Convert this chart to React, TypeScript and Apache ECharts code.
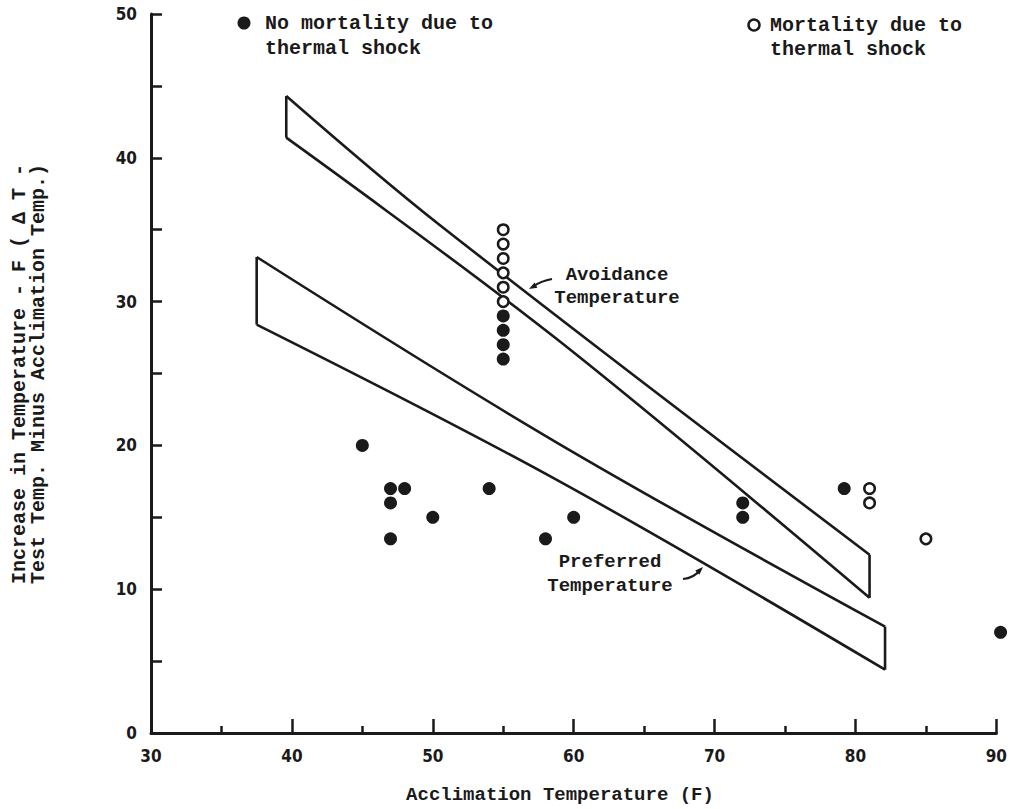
import React, { useEffect, useRef } from "react";
import * as echarts from "echarts";

// Acclimation temperature (F) and temperature increase (F) of each test
const noMortality: number[][] = [
  [45, 20], [47, 17], [48, 17], [47, 16], [47, 13.5], [50, 15], [54, 17],
  [58, 13.5], [60, 15], [55, 29], [55, 28], [55, 27], [55, 26],
  [72, 16], [72, 15], [79.2, 17], [90.3, 7],
];
const mortality: number[][] = [
  [55, 35], [55, 34], [55, 33], [55, 32], [55, 31], [55, 30],
  [81, 17], [81, 16], [85, 13.5],
];

// Upper and lower edges of the two hand-drawn temperature bands
const avoidanceUpper: number[][] = [[39.6, 44.3], [50.4, 35.4], [81, 12.4]];
const avoidanceLower: number[][] = [[39.6, 41.4], [58.8, 27.4], [81, 9.4]];
const preferredUpper: number[][] = [[37.5, 33.1], [58.8, 20.2], [82.1, 7.4]];
const preferredLower: number[][] = [[37.5, 28.4], [58.8, 17.6], [82.1, 4.4]];

const xRange = [30, 90];
const yRange = [0, 50];

const ink = "#1a1a1a";
const mono = "'Liberation Mono', 'DejaVu Sans Mono', monospace";
const digits = "'DejaVu Sans Condensed', 'Liberation Sans Narrow', 'DejaVu Sans', sans-serif";

const typed = (text: string, extra: Record<string, unknown> = {}) => ({
  text,
  fontFamily: mono,
  fontSize: 19,
  fontWeight: "bold",
  fill: ink,
  ...extra,
});

export default function App() {
  const ref = useRef<HTMLDivElement>(null);

  useEffect(() => {
    if (!ref.current) return;
    const chart = echarts.init(ref.current, undefined, { renderer: "svg" });

    const stroke = (name: string, data: number[][], smooth: number | boolean) => ({
      type: "line",
      name,
      data,
      symbol: "none",
      smooth,
      clip: false,
      silent: true,
      z: 1,
      lineStyle: { color: ink, width: 2.6, join: "miter" },
    });

    // each band: two gently curved edges joined by straight end caps
    const band = (name: string, upper: number[][], lower: number[][]) => [
      stroke(name, upper, 0.35),
      stroke(name, lower, 0.35),
      stroke(name, [upper[0], lower[0]], false),
      stroke(name, [upper[upper.length - 1], lower[lower.length - 1]], false),
    ];

    chart.setOption({
      animation: false,
      backgroundColor: "#ffffff",
      grid: { left: 151, right: 12, top: 14, bottom: 76 },
      xAxis: {
        type: "value",
        min: xRange[0],
        max: xRange[1],
        interval: 10,
        axisLine: { show: true, onZero: false, lineStyle: { color: ink, width: 3 } },
        axisTick: { show: true, inside: true, length: 14, lineStyle: { color: ink, width: 2.5 } },
        minorTick: { show: true, splitNumber: 2, length: 7, lineStyle: { color: ink, width: 2.5 } },
        splitLine: { show: false },
        axisLabel: { color: ink, fontFamily: digits, fontSize: 17, fontWeight: "bold", margin: 14 },
      },
      yAxis: {
        type: "value",
        min: yRange[0],
        max: yRange[1],
        interval: 10,
        axisLine: { show: true, onZero: false, lineStyle: { color: ink, width: 3 } },
        axisTick: { show: true, inside: true, length: 11, lineStyle: { color: ink, width: 2.5 } },
        minorTick: { show: true, splitNumber: 2, length: 11, lineStyle: { color: ink, width: 2.5 } },
        splitLine: { show: false },
        axisLabel: { color: ink, fontFamily: digits, fontSize: 17, fontWeight: "bold", margin: 14 },
      },
      series: [
        ...band("Avoidance Temperature", avoidanceUpper, avoidanceLower),
        ...band("Preferred Temperature", preferredUpper, preferredLower),
        {
          type: "scatter",
          name: "No mortality due to thermal shock",
          data: noMortality,
          symbol: "circle",
          symbolSize: 13,
          clip: false,
          z: 3,
          itemStyle: { color: ink, opacity: 1 },
        },
        {
          type: "scatter",
          name: "Mortality due to thermal shock",
          data: mortality,
          symbol: "circle",
          symbolSize: 10.5,
          clip: false,
          z: 3,
          itemStyle: { color: "#ffffff", borderColor: ink, borderWidth: 2.5, opacity: 1 },
        },
      ],
      graphic: [
        // key for the two symbol types
        { type: "circle", shape: { cx: 244, cy: 23, r: 6.5 }, style: { fill: ink } },
        {
          type: "text",
          x: 265,
          y: 11,
          style: typed("No mortality due to\nthermal shock", { fontSize: 20, lineHeight: 25, align: "left", verticalAlign: "top" }),
        },
        { type: "circle", shape: { cx: 754, cy: 25, r: 5.5 }, style: { fill: "#ffffff", stroke: ink, lineWidth: 2.5 } },
        {
          type: "text",
          x: 770,
          y: 13,
          style: typed("Mortality due to\nthermal shock", { fontSize: 20, lineHeight: 24, align: "left", verticalAlign: "top" }),
        },
        // band labels and their pointers
        {
          type: "text",
          x: 617,
          y: 263,
          style: typed("Avoidance\nTemperature", { lineHeight: 23, align: "center", verticalAlign: "top" }),
        },
        {
          type: "bezierCurve",
          shape: { x1: 552, y1: 279, cpx1: 541, cpy1: 281, x2: 533, y2: 286.5 },
          style: { stroke: ink, lineWidth: 2.2, fill: null },
        },
        {
          type: "polygon",
          shape: { points: [[529, 289], [537.4, 287.8], [534.6, 282.6]] },
          style: { fill: ink },
        },
        {
          type: "text",
          x: 610,
          y: 550,
          style: typed("Preferred\nTemperature", { lineHeight: 24, align: "center", verticalAlign: "top" }),
        },
        {
          type: "bezierCurve",
          shape: { x1: 683, y1: 579, cpx1: 694, cpy1: 578, x2: 700, y2: 570 },
          style: { stroke: ink, lineWidth: 2.2, fill: null },
        },
        {
          type: "polygon",
          shape: { points: [[703, 567], [699.4, 574.8], [695.2, 570.6]] },
          style: { fill: ink },
        },
        // axis titles
        {
          type: "text",
          x: 29,
          y: 374,
          rotation: Math.PI / 2,
          style: typed("Increase in Temperature - F ( \u0394 T -\nTest Temp. Minus Acclimation Temp.)", {
            fontSize: 20,
            lineHeight: 19,
            align: "center",
            verticalAlign: "middle",
          }),
        },
        {
          type: "text",
          x: 560,
          y: 795,
          style: typed("Acclimation Temperature (F)", { align: "center", verticalAlign: "middle" }),
        },
      ],
    });

    return () => chart.dispose();
  }, []);

  return (
    <div
      ref={ref}
      style={{ position: "fixed", left: 0, top: 0, width: 1010, height: 809, background: "#fff" }}
    />
  );
}
